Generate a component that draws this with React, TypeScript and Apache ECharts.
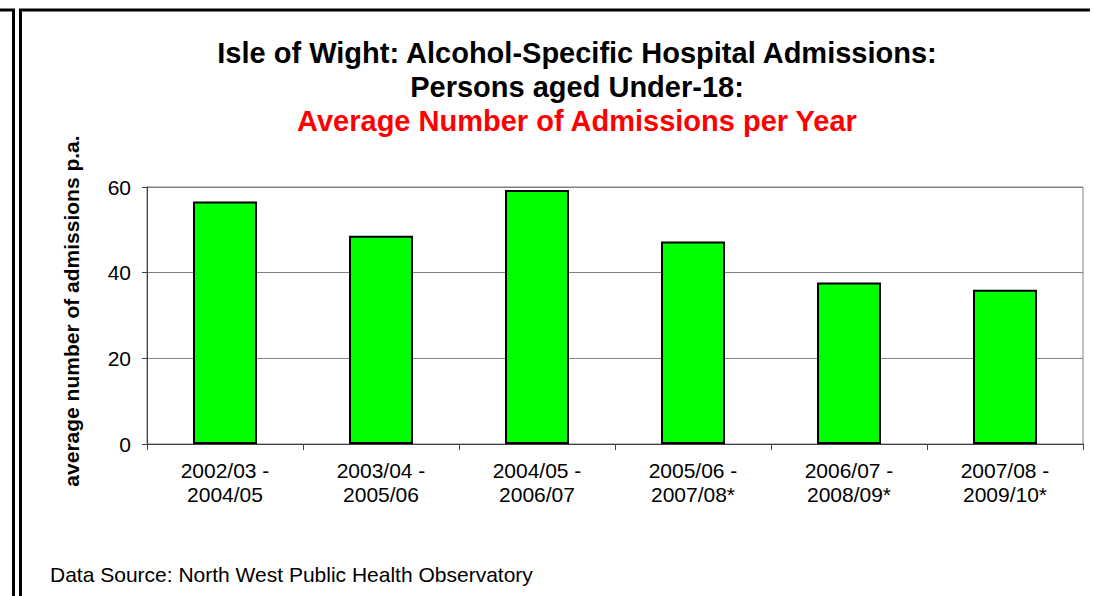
import React, { useEffect, useRef } from "react";
import * as echarts from "echarts";

const categories = [
  "2002/03 -\n2004/05",
  "2003/04 -\n2005/06",
  "2004/05 -\n2006/07",
  "2005/06 -\n2007/08*",
  "2006/07 -\n2008/09*",
  "2007/08 -\n2009/10*",
];
const admissions = [56.6, 48.6, 59.3, 47.3, 37.7, 36.0];
const titleLines = [
  "Isle of Wight: Alcohol-Specific Hospital Admissions:",
  "Persons aged Under-18:",
  "Average Number of Admissions per Year",
];
const yAxisName = "average number of admissions p.a.";
const sourceText = "Data Source: North West Public Health Observatory";

export default function App() {
  const ref = useRef<HTMLDivElement>(null);
  useEffect(() => {
    if (!ref.current) return;
    document.body.style.margin = "0";
    document.body.style.overflow = "hidden";
    const chart = echarts.init(ref.current, undefined, { renderer: "svg", width: 1093, height: 596 });
    const font = "Liberation Sans, Arial, sans-serif";
    chart.setOption({
      animation: false,
      backgroundColor: "#ffffff",
      textStyle: { fontFamily: font },
      grid: {
        left: 147,
        right: 10,
        top: 187,
        bottom: 152,
        show: true,
        borderColor: "#808080",
        borderWidth: 1,
      },
      xAxis: {
        type: "category",
        data: categories,
        axisLine: { show: true, lineStyle: { color: "#404040", width: 1 } },
        axisTick: { show: true, length: 6, lineStyle: { color: "#404040" } },
        axisLabel: {
          color: "#000",
          fontSize: 21,
          lineHeight: 24,
          margin: 14,
          fontFamily: font,
          interval: 0,
        },
      },
      yAxis: {
        type: "value",
        min: 0,
        max: 60,
        interval: 20,
        axisLine: { show: true, lineStyle: { color: "#404040", width: 1 } },
        axisTick: { show: true, length: 5, lineStyle: { color: "#404040" } },
        axisLabel: { color: "#000", fontSize: 21, margin: 16, fontFamily: font },
        splitLine: { show: true, lineStyle: { color: "#808080", width: 1 } },
      },
      series: [
        {
          type: "bar",
          data: admissions,
          barWidth: 64,
          itemStyle: { color: "#00ff00", borderColor: "#000", borderWidth: 2 },
        },
      ],
      graphic: [
        { type: "line", shape: { x1: 0, y1: 10, x2: 15, y2: 10 }, style: { stroke: "#000", lineWidth: 3 } },
        { type: "line", shape: { x1: 13.5, y1: 10, x2: 13.5, y2: 596 }, style: { stroke: "#000", lineWidth: 3 } },
        { type: "line", shape: { x1: 19, y1: 10, x2: 1090, y2: 10 }, style: { stroke: "#000", lineWidth: 3 } },
        { type: "line", shape: { x1: 20.5, y1: 10, x2: 20.5, y2: 596 }, style: { stroke: "#000", lineWidth: 3 } },
        {
          type: "text",
          x: 577,
          y: 53,
          style: { text: titleLines[0], fill: "#000", font: "bold 29px " + font, textAlign: "center", textVerticalAlign: "middle" },
        },
        {
          type: "text",
          x: 577,
          y: 87,
          style: { text: titleLines[1], fill: "#000", font: "bold 29px " + font, textAlign: "center", textVerticalAlign: "middle" },
        },
        {
          type: "text",
          x: 577,
          y: 121,
          style: { text: titleLines[2], fill: "#ff0000", font: "bold 29px " + font, textAlign: "center", textVerticalAlign: "middle" },
        },
        {
          type: "text",
          x: 71,
          y: 311,
          rotation: Math.PI / 2,
          style: { text: yAxisName, fill: "#000", font: "bold 21px " + font, textAlign: "center", textVerticalAlign: "middle" },
        },
        {
          type: "text",
          x: 50,
          y: 574,
          style: { text: sourceText, fill: "#000", font: "21px " + font, textAlign: "left", textVerticalAlign: "middle" },
        },
      ],
    });
    return () => chart.dispose();
  }, []);
  return (
    <div
      ref={ref}
      style={{ position: "absolute", left: 0, top: 0, width: 1093, height: 596, overflow: "hidden" }}
    />
  );
}
